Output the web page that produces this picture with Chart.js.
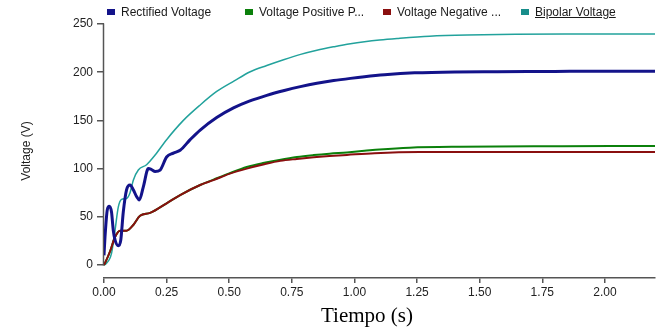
<!DOCTYPE html>
<html lang="es">
<head>
    <meta charset="UTF-8">
    <title>Voltage vs Tiempo</title>
    <script src="https://cdn.jsdelivr.net/npm/chart.js"></script>
    <style>
        body { margin: 0; background: #fff; }
        #wrap { position: relative; width: 658px; height: 331px; }
        #legend { position: absolute; left: 107px; top: 5px; display: flex; font: 12px "Liberation Sans", Arial, sans-serif; color: #1a1a1a; }
        .item { width: 138px; display: flex; align-items: center; white-space: nowrap; }
        .box { width: 8px; height: 6px; margin-right: 6px; }
        #xtitle { position: absolute; left: 0; width: 734px; top: 303px; text-align: center; font: 21px "Liberation Serif", "Times New Roman", serif; color: #000; }
    </style>
</head>
<body>
<div id="wrap">
    <canvas id="chart" width="658" height="331"></canvas>
    <div id="legend"></div>
    <div id="xtitle">Tiempo (s)</div>
</div>

<script>
    // series names / colours
    const seriesNames = ['Rectified Voltage', 'Voltage Positive P...', 'Voltage Negative ...', 'Bipolar Voltage'];
    const seriesColors = ['#13138a', '#0b800b', '#8a0f0f', '#22a29c'];

    // Rectified Voltage
    const rectT = [0, 0.004, 0.013, 0.021, 0.03, 0.037, 0.044, 0.057, 0.067, 0.077, 0.09, 0.104, 0.117, 0.13, 0.141, 0.157, 0.177, 0.19, 0.204, 0.224, 0.25, 0.277, 0.304, 0.344, 0.384, 0.45, 0.517, 0.58, 0.65, 0.72, 0.784, 0.85, 0.917, 0.984, 1.04, 1.12, 1.24, 1.4, 1.57, 1.8, 2.0, 2.2];
    const rectV = [10, 29, 57, 61, 55, 36, 26, 20, 26, 55, 78, 83, 78, 71, 67.5, 81, 100, 99, 97, 98.5, 112, 116, 119, 130, 140, 153, 163, 170, 176, 181, 185, 188.5, 191.3, 193.6, 195.3, 197.3, 199.3, 200.3, 200.5, 200.8, 201, 201];

    // Voltage Positive
    const posT = [0, 0.004, 0.024, 0.044, 0.064, 0.09, 0.117, 0.144, 0.184, 0.25, 0.304, 0.384, 0.437, 0.5, 0.57, 0.64, 0.7, 0.77, 0.837, 0.9, 0.97, 1.04, 1.1, 1.22, 1.42, 1.83, 2.2];
    const posV = [0, 2, 14, 29, 35.6, 35.6, 41.5, 51, 54, 64, 72.6, 83, 88.5, 95, 101.7, 106, 109, 112, 114, 115.5, 116.8, 118.4, 119.8, 121.7, 122.7, 123.2, 123.4];

    // Voltage Negative
    const negT = [0, 0.004, 0.024, 0.044, 0.064, 0.09, 0.117, 0.144, 0.184, 0.25, 0.304, 0.384, 0.437, 0.5, 0.57, 0.64, 0.704, 0.77, 0.837, 0.9, 0.97, 1.08, 1.26, 1.6, 2.2];
    const negV = [0, 2, 14, 29, 35.6, 35.6, 41.5, 51, 54, 64, 72.6, 83, 88, 94.5, 100, 104.5, 108, 110, 111.7, 113, 114.2, 116, 117.2, 117.2, 117.2];

    // Bipolar Voltage
    const bipT = [0, 0.007, 0.03, 0.044, 0.057, 0.07, 0.09, 0.104, 0.117, 0.137, 0.17, 0.204, 0.25, 0.317, 0.384, 0.45, 0.52, 0.584, 0.65, 0.717, 0.785, 0.85, 0.92, 0.984, 1.04, 1.1, 1.17, 1.3, 1.45, 1.84, 2.2];
    const bipV = [0, 1, 12, 36, 60, 68, 69, 75, 88, 98.5, 104, 114, 130, 150, 166, 180, 191, 200.5, 207, 213, 218.5, 222.8, 226.5, 229.5, 231.6, 233.4, 235, 237.4, 238.6, 239.6, 239.6];

    // tick labels
    const xTicks = [0, 0.25, 0.5, 0.75, 1.0, 1.25, 1.5, 1.75, 2.0];
    const yTicks = [0, 50, 100, 150, 200, 250];

    function toPoints(ts, vs) {
        return ts.map((t, i) => ({ x: t, y: vs[i] }));
    }

    // html legend
    const legendEl = document.getElementById('legend');
    seriesNames.forEach((name, i) => {
        const item = document.createElement('div');
        item.className = 'item';
        const box = document.createElement('span');
        box.className = 'box';
        box.style.background = i === 3 ? '#178d8a' : seriesColors[i];
        const label = document.createElement('span');
        label.textContent = name;
        if (i === 3) label.style.textDecoration = 'underline';
        item.appendChild(box);
        item.appendChild(label);
        legendEl.appendChild(item);
    });

    // y axis line only from 0 to 250 (x axis sits a bit below)
    const yAxisLine = {
        id: 'yAxisLine',
        beforeDatasetsDraw(chart) {
            const { ctx } = chart;
            const y = chart.scales.y;
            const x = Math.round(y.right) - 0.5;
            ctx.save();
            ctx.strokeStyle = '#555';
            ctx.lineWidth = 1.5;
            ctx.beginPath();
            ctx.moveTo(x, y.getPixelForValue(yTicks[yTicks.length - 1]) - 0.5);
            ctx.lineTo(x, y.getPixelForValue(yTicks[0]) + 0.5);
            ctx.stroke();
            ctx.restore();
        }
    };

    const ctx = document.getElementById('chart').getContext('2d');
    new Chart(ctx, {
        type: 'line',
        data: {
            datasets: [
                { label: seriesNames[0], data: toPoints(rectT, rectV), borderColor: seriesColors[0], borderWidth: 3, order: 0 },
                { label: seriesNames[1], data: toPoints(posT, posV), borderColor: seriesColors[1], borderWidth: 2, order: 2 },
                { label: seriesNames[2], data: toPoints(negT, negV), borderColor: seriesColors[2], borderWidth: 2, order: 1 },
                { label: seriesNames[3], data: toPoints(bipT, bipV), borderColor: seriesColors[3], borderWidth: 1.5, order: 3 }
            ]
        },
        options: {
            responsive: false,
            animation: false,
            elements: { point: { radius: 0 }, line: { cubicInterpolationMode: 'monotone', fill: false } },
            layout: { padding: { top: 24, right: 3, left: 0, bottom: 0 } },
            plugins: { legend: { display: false }, tooltip: { enabled: false } },
            scales: {
                x: {
                    type: 'linear',
                    min: 0,
                    max: 2.2,
                    afterBuildTicks: (s) => { s.ticks = xTicks.map(v => ({ value: v })); },
                    afterFit: (s) => { s.height = 53; },
                    ticks: {
                        padding: 2,
                        maxRotation: 0,
                        color: '#222',
                        font: { family: 'Liberation Sans, Arial, sans-serif', size: 12 },
                        callback: (v) => Number(v).toFixed(2)
                    },
                    grid: { drawOnChartArea: false, drawTicks: true, tickLength: 5, color: '#555', lineWidth: 1.5 },
                    border: { display: true, color: '#555', width: 1.5 }
                },
                y: {
                    min: -13.5,
                    max: 250,
                    afterBuildTicks: (s) => { s.ticks = yTicks.map(v => ({ value: v })); },
                    afterFit: (s) => { s.width = 104; },
                    ticks: {
                        padding: 4,
                        color: '#222',
                        font: { family: 'Liberation Sans, Arial, sans-serif', size: 12 }
                    },
                    grid: { drawOnChartArea: false, drawTicks: true, tickLength: 7, color: '#555', lineWidth: 1.5 },
                    border: { display: false },
                    title: {
                        display: true,
                        text: 'Voltage (V)',
                        color: '#1a1a1a',
                        font: { family: 'Liberation Sans, Arial, sans-serif', size: 12 },
                        padding: { top: 19, bottom: 0 }
                    }
                }
            }
        },
        plugins: [yAxisLine]
    });
</script>
</body>
</html>
